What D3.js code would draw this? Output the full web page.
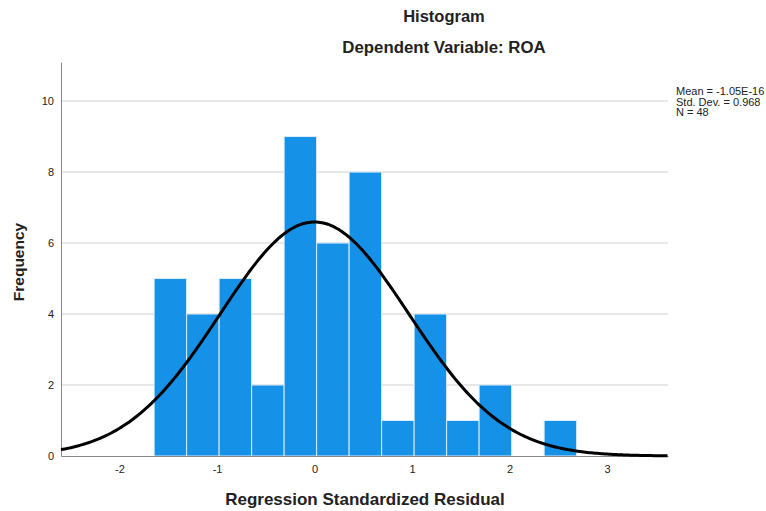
<!DOCTYPE html>
<html><head><meta charset="utf-8">
<script src="https://cdn.jsdelivr.net/npm/d3@7"></script>
<style>body{margin:0;background:#fff;} text{font-family:"Liberation Sans",Arial,sans-serif;}</style>
</head><body>
<svg id="c" width="766" height="511"></svg>
<script>
const binStart = -1.645;
const binWidth = 0.3333;
const counts = [5,4,5,2,9,6,8,1,4,1,2,0,1];
const xTicks = [-2,-1,0,1,2,3];
const yTicks = [0,2,4,6,8,10];
const stats = {mean:-1.05e-16, sd:0.968, n:48};
const legendLines = ["Mean = -1.05E-16","Std. Dev. = 0.968","N = 48"];

const svg = d3.select("#c");
const L=61, R=668, T=62, B=456;
const x = d3.scaleLinear().domain([-2.6, 3.625]).range([L,R]);
const y = d3.scaleLinear().domain([0, 11.1]).range([B,T]);

// gridlines
svg.append("g").selectAll("line").data(yTicks.filter(d=>d>0)).join("line")
  .attr("x1",L).attr("x2",R).attr("y1",d=>y(d)).attr("y2",d=>y(d))
  .attr("stroke","#cfcfcf").attr("stroke-width",1);

// bars
svg.append("g").selectAll("rect").data(counts.map((c,i)=>({c,i})).filter(d=>d.c>0)).join("rect")
  .attr("x",d=>x(binStart+d.i*binWidth))
  .attr("width",d=>x(binStart+(d.i+1)*binWidth)-x(binStart+d.i*binWidth))
  .attr("y",d=>y(d.c)).attr("height",d=>y(0)-y(d.c))
  .attr("fill","#1591e8").attr("stroke","#dcecf8").attr("stroke-width",1);

// axes
const fmt = d=>String(d);
const xAxis = d3.axisBottom(x).tickValues(xTicks).tickFormat(fmt).tickSize(0).tickPadding(9);
const gx = svg.append("g").attr("transform",`translate(0,${B})`).call(xAxis);
gx.select(".domain").attr("stroke","#888");
gx.selectAll("text").attr("font-size","11px").attr("fill","#222");
const yAxis = d3.axisLeft(y).tickValues(yTicks).tickFormat(fmt).tickSize(0).tickPadding(7);
const gy = svg.append("g").attr("transform",`translate(${L},0)`).call(yAxis);
gy.select(".domain").attr("stroke","#888");
gy.selectAll("text").attr("font-size","11px").attr("fill","#222");

// normal curve
const scale = stats.n*binWidth/(stats.sd*Math.sqrt(2*Math.PI));
const pts = d3.range(-2.6, 3.63, 0.02).map(v=>[v, scale*Math.exp(-0.5*Math.pow((v-stats.mean)/stats.sd,2))]);
svg.append("path").datum(pts)
  .attr("d", d3.line().x(d=>x(d[0])).y(d=>y(d[1])).curve(d3.curveBasis))
  .attr("fill","none").attr("stroke","#000").attr("stroke-width",3);

// titles
svg.append("text").attr("x",444).attr("y",22).attr("text-anchor","middle")
  .attr("font-size","16.5px").attr("font-weight","bold").attr("fill","#222").text("Histogram");
svg.append("text").attr("x",444).attr("y",53).attr("text-anchor","middle")
  .attr("font-size","16.8px").attr("font-weight","bold").attr("fill","#222").text("Dependent Variable: ROA");
svg.append("text").attr("x",365).attr("y",505).attr("text-anchor","middle")
  .attr("font-size","17px").attr("font-weight","bold").attr("fill","#222").text("Regression Standardized Residual");
svg.append("text").attr("transform","translate(24,262) rotate(-90)").attr("text-anchor","middle")
  .attr("font-size","15.5px").attr("font-weight","bold").attr("fill","#222").text("Frequency");

// legend
svg.append("g").selectAll("text").data(legendLines).join("text")
  .attr("x",676).attr("y",(d,i)=>95+i*10.5)
  .attr("font-size","11px").attr("fill","#222").text(d=>d);
</script>
</body></html>
